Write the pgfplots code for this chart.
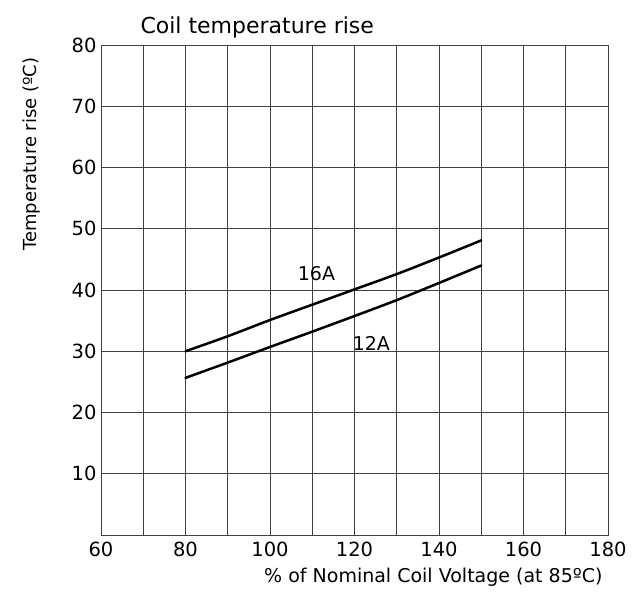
\documentclass[border=0pt]{standalone}
\usepackage{pgfplots}
\pgfplotsset{compat=1.18}
\usepackage{fontspec}
\setmainfont{DejaVu Sans}
\usetikzlibrary{calc}
\begin{document}
\begin{tikzpicture}
\begin{axis}[
  name=ax, at={(0,0)}, anchor=south west,
  scale only axis, width=507pt, height=490pt,
  xmin=60, xmax=180, ymin=0, ymax=80,
  xtick={60,80,...,180}, minor xtick={70,90,...,170},
  ytick={10,20,...,80}, minor ytick={0},
  grid=both,
  major grid style={draw=black!75, line width=0.6pt},
  minor grid style={draw=black!75, line width=0.6pt},
  axis line style={draw=black!75, line width=0.8pt},
  tick style={draw=none},
  ticklabel style={font=\fontsize{19.5}{22}\selectfont},
  /pgf/number format/assume math mode=true,
  xticklabel style={yshift=-3pt},
  yticklabel style={xshift=-1pt},
  clip=false,
]
\addplot[black, line width=2.5pt, smooth, tension=0.5, line cap=round] coordinates {
(80,30.0) (90,32.45) (100,35.1) (110,37.6) (120,40.1) (130,42.6) (140,45.3) (150,48.1)};
\addplot[black, line width=2.5pt, smooth, tension=0.5, line cap=round] coordinates {
(80,25.65) (90,28.15) (100,30.7) (110,33.2) (120,35.75) (130,38.35) (140,41.15) (150,44.0)};
\node[font=\fontsize{19}{22}\selectfont] at (axis cs:111,42.6) {16A};
\node[font=\fontsize{19}{22}\selectfont] at (axis cs:124,31.2) {12A};
\end{axis}
\node[anchor=base west, font=\fontsize{22}{26}\selectfont] at ($(ax.north west)+(36pt,12pt)$) {Coil temperature rise};
\node[anchor=base east, font=\fontsize{19}{22}\selectfont] at ($(ax.south east)+(-2pt,-48pt)$) {\% of Nominal Coil Voltage (at 85ºC)};
\node[rotate=90, anchor=east, font=\fontsize{18}{22}\selectfont] at ($(ax.north west)+(-69pt,-9pt)$) {Temperature rise (ºC)};
\pgfresetboundingbox
\path[use as bounding box] ($(ax.south west)+(-101pt,-61pt)$) rectangle ($(ax.south west)+(541pt,535pt)$);
\end{tikzpicture}
\end{document}
